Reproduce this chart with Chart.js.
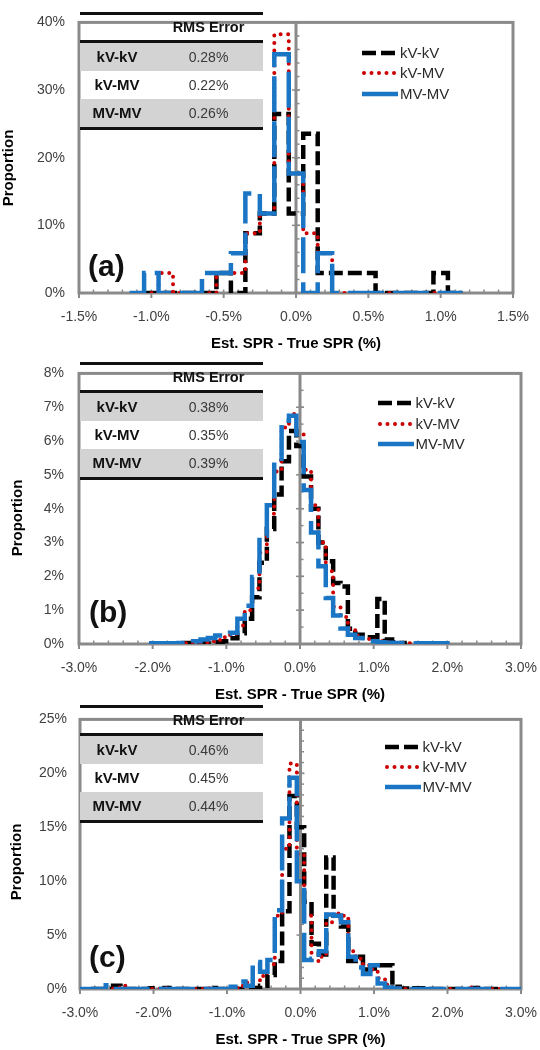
<!DOCTYPE html>
<html lang="en">
<head>
<meta charset="utf-8">
<title>Est. SPR - True SPR histograms</title>
<script src="https://cdn.jsdelivr.net/npm/chart.js@4.4.1/dist/chart.umd.min.js"></script>
<style>
  body { margin: 0; background: #fff; font-family: "Liberation Sans", Arial, sans-serif; }
  #page { position: relative; width: 540px; height: 1050px; overflow: hidden; }
  canvas { position: absolute; left: 0; }
  .rms { position: absolute; left: 80px; width: 183px; border-top: 3px solid #111; border-bottom: 3px solid #111; }
  .rms .r { height: 28px; line-height: 28px; white-space: nowrap; }
  .rms .hd { height: 25px; line-height: 25px; border-bottom: 3px solid #111; white-space: nowrap; }
  .rms .g { background: #d3d3d3; }
  .rms span { display: inline-block; text-align: center; vertical-align: top; }
  .rms .c1 { width: 74px; font-weight: bold; font-size: 15px; color: #111; }
  .rms .c2 { width: 109px; font-size: 14px; color: #3a3a3a; }
  .rms .hd .c2 { font-weight: bold; font-size: 14.5px; color: #111; }
  .legend { position: absolute; width: 140px; height: 62px; font-size: 15px; color: #2a2a2a; }
  .legend div { position: absolute; left: 0; width: 140px; height: 20px; line-height: 20px; white-space: nowrap; }
  .legend svg { position: absolute; left: 0; top: 5px; }
  .legend span { position: absolute; top: 0; }
  .tag { position: absolute; font-weight: bold; font-size: 30px; line-height: 30px; color: #111; }
  .ytitle { position: absolute; width: 100px; height: 18px; line-height: 18px; text-align: center; font-weight: bold; font-size: 15px; color: #000; transform: rotate(-90deg); }
</style>
</head>
<body>
<div id="page">
  <canvas id="chartA" width="540" height="354" style="top:0px"></canvas>
  <canvas id="chartB" width="540" height="354" style="top:350px"></canvas>
  <canvas id="chartC" width="540" height="354" style="top:698px"></canvas>
  <div id="overlay"></div>
</div>
<script>
////
///////////////////// Data /////////////////////
////

const seriesNames = ["kV-kV", "kV-MV", "MV-MV"];

// (a) bin centres, % of samples per 0.1% bin
const binsA = [-1.1, -1.0, -0.9, -0.8, -0.7, -0.6, -0.5, -0.4, -0.3, -0.2, -0.1, 0.0, 0.1, 0.2, 0.3, 0.4, 0.5, 0.6, 0.7, 0.8, 0.9, 1.0, 1.1];
const kvkvA = [null, 0, 0, 0, 0, 0, 2.94, 0, 8.82, 11.76, 26.47, 11.76, 23.53, 2.94, 2.94, 2.94, 2.94, 0, 0, 0, 0, 2.94, 0];
const kvmvA = [null, 0, 2.94, 0, 0, 0, 2.94, 2.94, 8.82, 11.76, 38.24, 17.65, 8.82, 5.88, 0, 0, 0, 0, 0, 0, 0, 0, 0];
const mvmvA = [0, 2.94, 0, 0, 0, 2.94, 2.94, 5.88, 14.71, 11.76, 35.29, 17.65, 0, 5.88, 0, 0, 0, 0, 0, 0, 0, 0, 0];
const rmsA = ["0.28%", "0.22%", "0.26%"];
const xTicksA = [-1.5, -1.0, -0.5, 0, 0.5, 1.0, 1.5];
const yTicksA = [0, 10, 20, 30, 40];

// (b)
const binsB = [-2.0, -1.9, -1.8, -1.7, -1.6, -1.5, -1.4, -1.3, -1.2, -1.1, -1.0, -0.9, -0.8, -0.7, -0.6, -0.5, -0.4, -0.3, -0.2, -0.1,
               0.0, 0.1, 0.2, 0.3, 0.4, 0.5, 0.6, 0.7, 0.8, 0.9, 1.0, 1.1, 1.2, 1.3, 1.4, 1.5, 1.6, 1.7, 1.8, 1.9, 2.0];
const kvkvB = [null, null, null, null, 0.02, 0.03, 0.03, 0.03, 0.04, 0.05, 0.08, 0.17, 0.32, 0.75, 1.38, 2.4, 3.4, 4.42, 5.4, 6.3,
               5.85, 4.95, 4.0, 3.0, 2.45, 1.8, 1.7, 0.45, 0.27, 0.2, 0.2, 1.33, 0.13, 0.05, 0.03, null, null, null, null, null, null];
const kvmvB = [null, null, null, null, 0.02, 0.02, 0.03, 0.05, 0.08, 0.12, 0.2, 0.3, 0.55, 1.0, 1.65, 2.7, 3.85, 5.1, 6.4, 6.8,
               6.2, 5.15, 4.1, 3.0, 2.15, 1.1, 0.8, 0.45, 0.25, 0.15, 0.1, 0.08, 0.05, 0.04, 0.03, 0.02, 0.02, 0.02, 0.02, 0.02, 0.02];
const mvmvB = [0.02, 0.02, 0.02, 0.02, 0.03, 0.04, 0.08, 0.13, 0.18, 0.25, 0.3, 0.33, 0.75, 1.13, 1.98, 3.2, 4.1, 5.4, 6.6, 6.75,
               5.97, 4.55, 3.3, 2.3, 1.36, 0.84, 0.46, 0.27, 0.18, 0.1, 0.08, 0.05, 0.04, 0.03, 0.02, 0.02, 0.02, 0.02, 0.02, 0.02, 0.02];
const rmsB = ["0.38%", "0.35%", "0.39%"];
const xTicksB = [-3, -2, -1, 0, 1, 2, 3];
const yTicksB = [0, 1, 2, 3, 4, 5, 6, 7, 8];

// (c)
const binsC = [-3.0, -2.9, -2.8, -2.7, -2.6, -2.5, -2.4, -2.3, -2.2, -2.1,
               -2.0, -1.9, -1.8, -1.7, -1.6, -1.5, -1.4, -1.3, -1.2, -1.1,
               -1.0, -0.9, -0.8, -0.7, -0.6, -0.5, -0.4, -0.3, -0.2, -0.1,
               0.0, 0.1, 0.2, 0.3, 0.4, 0.5, 0.6, 0.7, 0.8, 0.9,
               1.0, 1.1, 1.2, 1.3, 1.4, 1.5, 1.6, 1.7, 1.8, 1.9,
               2.0, 2.1, 2.2, 2.3, 2.4, 2.5, 2.6, 2.7, 2.8, 2.9,
               3.0];
const kvkvC = [null, null, 0, 0, 0, 0.3, 0, 0, 0, 0,
               0.08, 0, 0.1, 0, 0, 0, 0, 0, 0.1, 0,
               0, 0, 0, 0.05, 0.1, 0.3, 1.3, 2.6, 7.2, 17.9,
               15.0, 8.1, 4.2, 3.2, 12.2, 6.8, 5.8, 2.6, 3.0, 1.8,
               1.9, 2.2, 2.2, 0.2, 0.05, 0, 0.08, 0.08, 0, 0,
               0, 0, 0, 0, 0.1, 0, 0, 0, null, null,
               null];
const kvmvC = [null, null, 0, 0, 0, 0.15, 0.3, 0, 0, 0,
               0, 0, 0.08, 0, 0, 0, 0, 0, 0.08, 0,
               0.05, 0.1, 0.3, 0.6, 0.8, 1.2, 2.3, 6.8, 13.0, 20.9,
               12.5, 6.8, 2.6, 3.0, 6.2, 7.0, 6.8, 3.5, 2.8, 2.2,
               1.8, 1.0, 0.4, 0.1, 0, 0, 0, 0, 0, 0,
               0, 0, 0, 0.15, 0.05, 0, 0, 0, null, null,
               null];
const mvmvC = [0, 0, 0, 0, 0.35, 0, 0, 0, 0, 0,
               0, 0, 0, 0, 0, 0, 0, 0, 0, 0,
               0, 0.2, 0.7, 0.3, 2.5, 1.6, 2.7, 7.3, 15.8, 19.6,
               10.0, 2.7, 2.8, 3.5, 6.9, 6.8, 6.2, 3.0, 2.0, 1.4,
               2.2, 0.5, 0.15, 0.05, 0, 0, 0, 0, 0, 0,
               0, 0, 0, 0, 0, 0, 0, 0, 0, 0,
               0];
const rmsC = ["0.46%", "0.45%", "0.44%"];
const xTicksC = [-3, -2, -1, 0, 1, 2, 3];
const yTicksC = [0, 5, 10, 15, 20, 25];

////
///////////////////// Styles /////////////////////
////

const lineStyles = [
    { color: '#000000', width: 4.5, dash: [14, 5], cap: 'butt', order: 2 },
    { color: '#cc0000', width: 4, dash: [0, 7.5], cap: 'round', order: 1 },
    { color: '#1b75c5', width: 4.5, dash: [36, 9], cap: 'butt', order: 0 }
];
const axisGray = '#8a8a8a';
const tickText = '#404040';

Chart.defaults.font.family = "'Liberation Sans', Arial, sans-serif";

// left edge of each bin, plus the right edge of the last one
const stepPoints = (bins, values) => {
    const pts = [];
    let last = null;
    for (let i = 0; i < bins.length; i++) {
        if (values[i] === null) continue;
        pts.push({ x: bins[i] - 0.05, y: values[i] });
        last = i;
    }
    if (last !== null) pts.push({ x: bins[last] + 0.05, y: values[last] });
    return pts;
};

// plot border, vertical axis at x = 0 and the small tick marks
const framePlugin = {
    id: 'frame',
    beforeDatasetsDraw(chart, args, opts) {
        const ctx = chart.ctx;
        const a = chart.chartArea;
        const x = chart.scales.x;
        const y = chart.scales.y;
        const seg = (x1, y1, x2, y2) => { ctx.beginPath(); ctx.moveTo(x1, y1); ctx.lineTo(x2, y2); ctx.stroke(); };
        ctx.save();
        ctx.strokeStyle = axisGray;
        ctx.lineWidth = 1.5;
        let n = Math.round((x.max - x.min) / opts.xMinor);
        for (let i = 1; i < n; i++) {
            const px = x.getPixelForValue(x.min + i * opts.xMinor);
            seg(px, a.bottom, px, a.bottom - 3.5);
        }
        ctx.lineWidth = 2;
        x.ticks.forEach(t => {
            const px = x.getPixelForValue(t.value);
            seg(px, a.bottom, px, a.bottom + 5);
        });
        const x0 = x.getPixelForValue(0);
        ctx.lineWidth = 1.5;
        n = Math.round((y.max - y.min) / opts.yMinor);
        for (let i = 1; i < n; i++) {
            const py = y.getPixelForValue(y.min + i * opts.yMinor);
            seg(x0, py, x0 + 3.5, py);
        }
        y.ticks.forEach(t => {
            const py = y.getPixelForValue(t.value);
            seg(x0 - 4, py, x0 + 4, py);
        });
        ctx.lineWidth = 3;
        seg(x0, a.top, x0, a.bottom);
        ctx.strokeRect(a.left, a.top, a.right - a.left, a.bottom - a.top);
        ctx.restore();
    }
};

function buildPanel(id, p) {
    const datasets = p.series.map((values, i) => ({
        label: seriesNames[i],
        data: stepPoints(p.bins, values),
        stepped: 'before',
        borderColor: lineStyles[i].color,
        borderWidth: lineStyles[i].width,
        borderDash: lineStyles[i].dash,
        borderCapStyle: lineStyles[i].cap,
        order: lineStyles[i].order,
        pointRadius: 0,
        fill: false,
        tension: 0
    }));

    return new Chart(document.getElementById(id), {
        type: 'line',
        data: { datasets: datasets },
        options: {
            responsive: false,
            animation: false,
            devicePixelRatio: 1,
            events: [],
            layout: { padding: p.padding },
            plugins: {
                legend: { display: false },
                tooltip: { enabled: false },
                frame: { xMinor: p.xMinor, yMinor: p.yMinor }
            },
            scales: {
                x: {
                    type: 'linear',
                    min: p.xTicks[0],
                    max: p.xTicks[p.xTicks.length - 1],
                    afterBuildTicks: s => { s.ticks = p.xTicks.map(v => ({ value: v })); },
                    afterFit: s => { s.height = 60; },
                    ticks: {
                        autoSkip: false,
                        maxRotation: 0,
                        padding: 0,
                        color: tickText,
                        font: { size: 14 },
                        callback: v => v.toFixed(1) + '%'
                    },
                    // tick marks are drawn by the frame plugin; this only spaces the labels
                    grid: { drawOnChartArea: false, drawTicks: true, tickLength: 16, tickColor: 'rgba(0,0,0,0)' },
                    border: { display: false },
                    title: {
                        display: true,
                        text: 'Est. SPR - True SPR (%)',
                        color: '#000',
                        font: { size: 15, weight: 'bold' },
                        padding: 0
                    }
                },
                y: {
                    min: 0,
                    max: p.yTicks[p.yTicks.length - 1],
                    afterBuildTicks: s => { s.ticks = p.yTicks.map(v => ({ value: v })); },
                    afterFit: s => { s.width = p.yWidth; },
                    ticks: {
                        padding: p.yPad,
                        color: tickText,
                        font: { size: 14 },
                        callback: v => v + '%'
                    },
                    grid: { display: false, drawTicks: false, tickLength: 0 },
                    border: { display: false }
                }
            }
        },
        plugins: [framePlugin]
    });
}

////
///////////////////// Panels /////////////////////
////

const chartA = buildPanel('chartA', {
    bins: binsA, series: [kvkvA, kvmvA, mvmvA], xTicks: xTicksA, yTicks: yTicksA,
    xMinor: 0.1, yMinor: 2, yWidth: 79, yPad: 14,
    padding: { top: 12, left: 0, right: 27, bottom: 1 }
});

const chartB = buildPanel('chartB', {
    bins: binsB, series: [kvkvB, kvmvB, mvmvB], xTicks: xTicksB, yTicks: yTicksB,
    xMinor: 0.2, yMinor: 0.5, yWidth: 79, yPad: 15,
    padding: { top: 13, left: 0, right: 19, bottom: 0 }
});

const chartC = buildPanel('chartC', {
    bins: binsC, series: [kvkvC, kvmvC, mvmvC], xTicks: xTicksC, yTicks: yTicksC,
    xMinor: 0.2, yMinor: 1, yWidth: 80, yPad: 13,
    padding: { top: 9, left: 0, right: 19, bottom: 3 }
});

////
///////////////////// Tables, legends, labels /////////////////////
////

const legendSample = [
    '<svg width="36" height="10"><line x1="0" y1="5" x2="34" y2="5" stroke="#000" stroke-width="4.5" stroke-dasharray="14 5"/></svg>',
    '<svg width="36" height="10"><line x1="2" y1="5" x2="34" y2="5" stroke="#cc0000" stroke-width="4" stroke-linecap="round" stroke-dasharray="0 7.5"/></svg>',
    '<svg width="36" height="10"><line x1="0" y1="5" x2="36" y2="5" stroke="#1b75c5" stroke-width="4.5"/></svg>'
];

const rmsTable = (top, values) => `
    <div class="rms" style="top:${top}px">
        <div class="hd"><span class="c1"></span><span class="c2">RMS Error</span></div>
        <div class="r g"><span class="c1">${seriesNames[0]}</span><span class="c2">${values[0]}</span></div>
        <div class="r"><span class="c1">${seriesNames[1]}</span><span class="c2">${values[1]}</span></div>
        <div class="r g"><span class="c1">${seriesNames[2]}</span><span class="c2">${values[2]}</span></div>
    </div>`;

const legendBox = (left, top, textLeft, gap) => `
    <div class="legend" style="left:${left}px; top:${top}px">
        ${seriesNames.map((name, i) => `<div style="top:${i * gap}px">${legendSample[i]}<span style="left:${textLeft}px">${name}</span></div>`).join('')}
    </div>`;

const yTitle = (cx, cy) => `<div class="ytitle" style="left:${cx - 50}px; top:${cy - 9}px">Proportion</div>`;

document.getElementById('overlay').innerHTML =
    rmsTable(12, rmsA) + rmsTable(362, rmsB) + rmsTable(705, rmsC) +
    legendBox(362, 43, 38, 20.3) + legendBox(378, 393, 37.5, 20.5) + legendBox(385, 737, 37.5, 20) +
    yTitle(8, 168) + yTitle(17, 518) + yTitle(16, 862) +
    `<div class="tag" style="left:88px; top:251px">(a)</div>
     <div class="tag" style="left:89px; top:597px">(b)</div>
     <div class="tag" style="left:89px; top:942px">(c)</div>`;
</script>
</body>
</html>
